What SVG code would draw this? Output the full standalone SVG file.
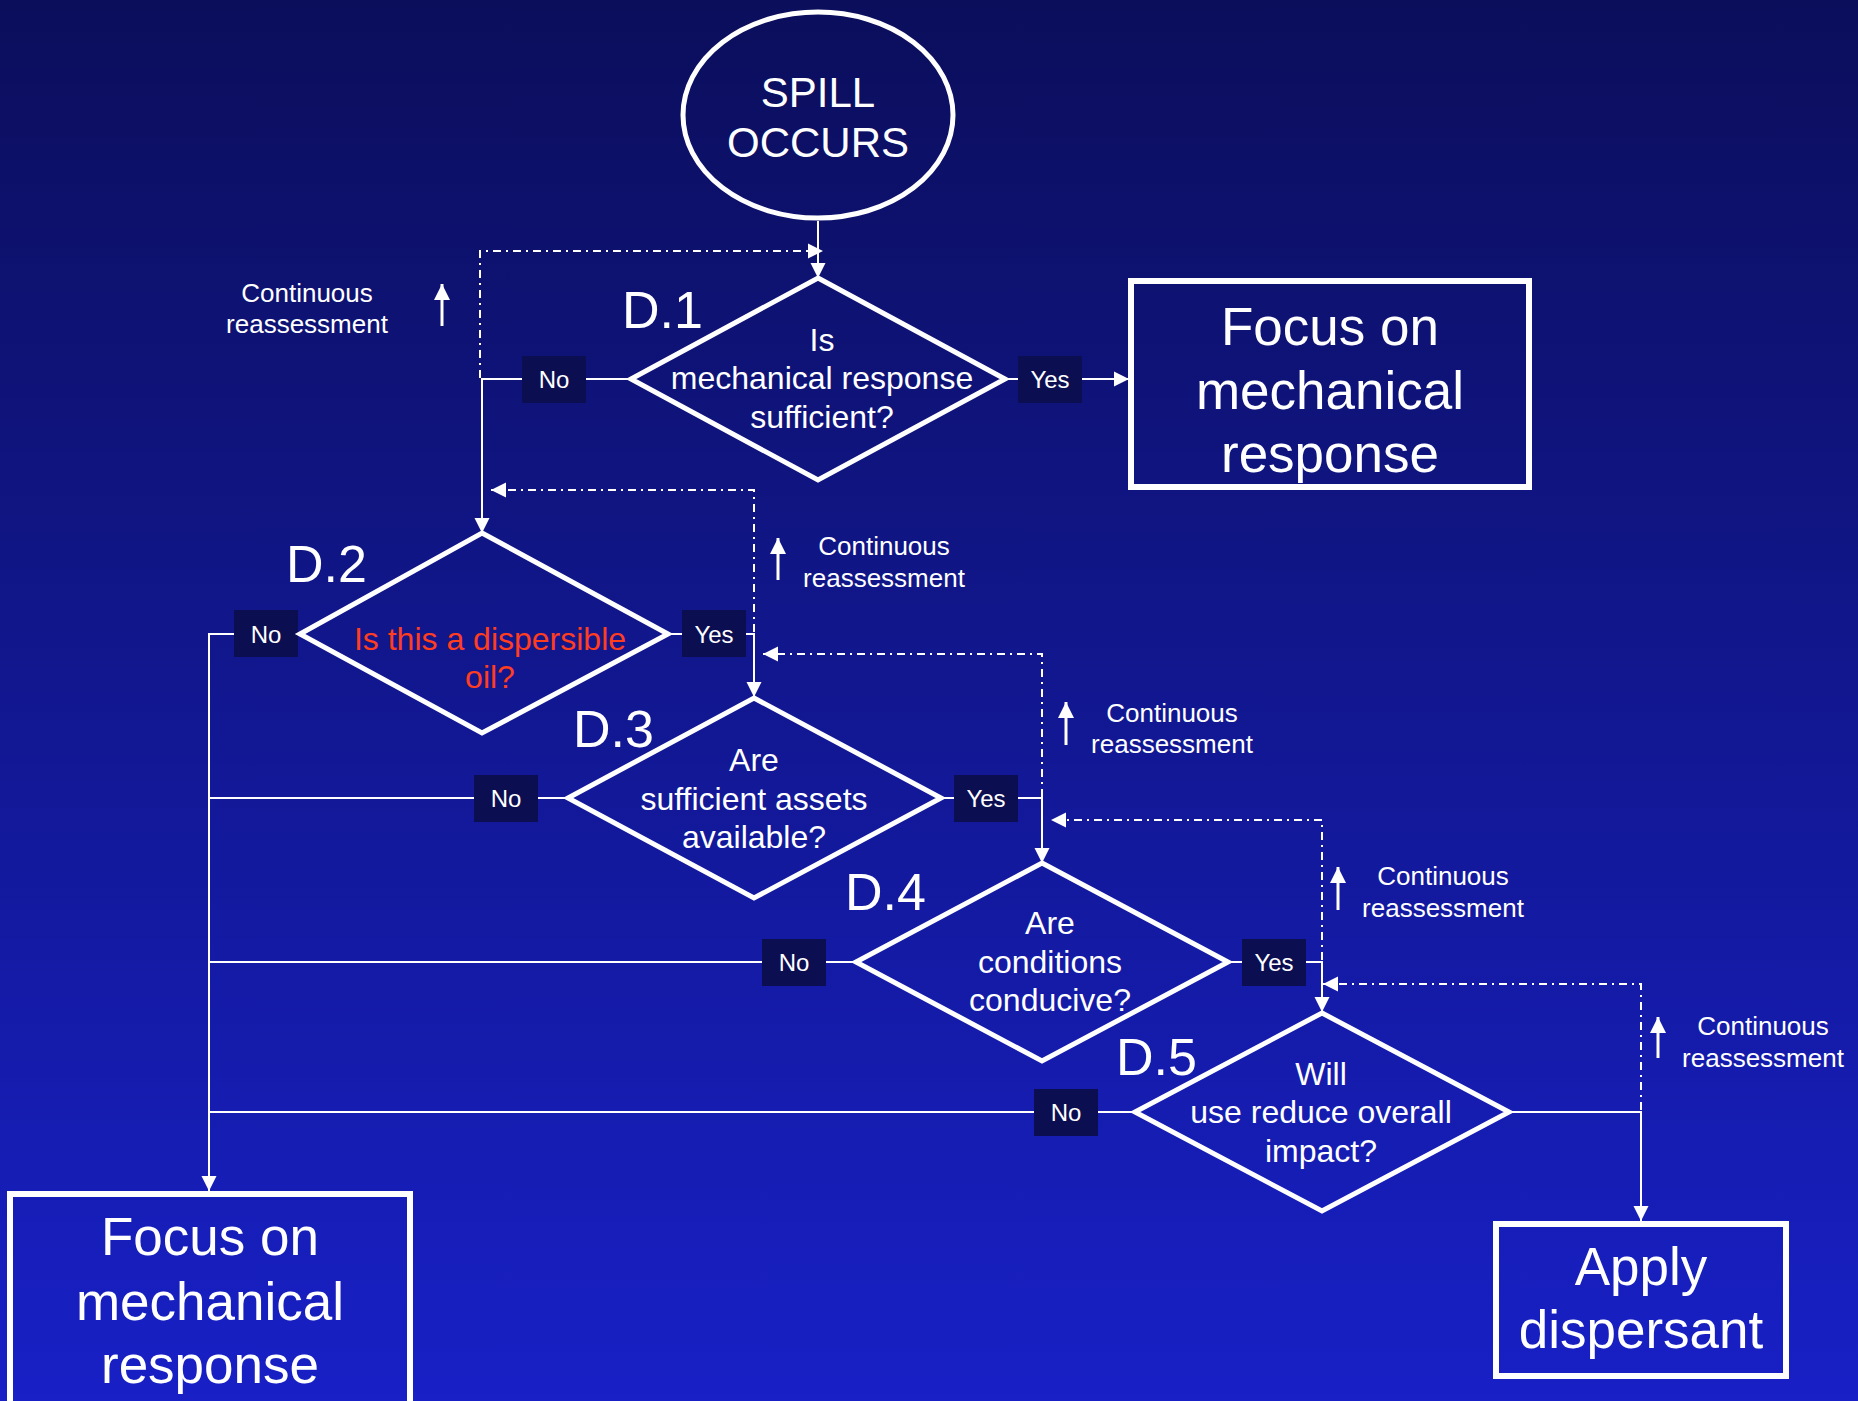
<svg xmlns="http://www.w3.org/2000/svg" width="1858" height="1401" viewBox="0 0 1858 1401">
<defs>
<linearGradient id="bg" x1="0" y1="0" x2="0" y2="1">
<stop offset="0" stop-color="#0b0e5b"/>
<stop offset="1" stop-color="#1820c6"/>
</linearGradient>
<marker id="arr" markerWidth="16" markerHeight="16" refX="15" refY="8" orient="auto" markerUnits="userSpaceOnUse">
<path d="M0,0.5 L15,8 L0,15.5 Z" fill="#fff"/>
</marker>
<marker id="up" markerWidth="18" markerHeight="18" refX="16" refY="8" orient="auto" markerUnits="userSpaceOnUse">
<path d="M0,0 L16,8 L0,16 Z" fill="#fff"/>
</marker>
<style>
text{font-family:"Liberation Sans",Arial,sans-serif;fill:#fff}
.shape{fill:none;stroke:#fff;stroke-width:5}
.box{fill:none;stroke:#fff;stroke-width:6}
.line{fill:none;stroke:#fff;stroke-width:2}
.dash{fill:none;stroke:#fff;stroke-width:2;stroke-dasharray:8 5 2 5}
.lbl{fill:#0c0e52}
.lt{font-size:24px;text-anchor:middle}
.q{font-size:32px;text-anchor:middle}
.big{font-size:53px;text-anchor:middle}
.dn{font-size:52px}
.cr{font-size:26px;text-anchor:middle}
.up{fill:none;stroke:#fff;stroke-width:3}
</style>
</defs>
<rect x="0" y="0" width="1858" height="1401" fill="url(#bg)"/>

<g id="connectors">
<path class="line" d="M818,221 V278" marker-end="url(#arr)"/>
<path class="line" d="M1006,379 H1129" marker-end="url(#arr)"/>
<path class="line" d="M631,379 H482 V533" marker-end="url(#arr)"/>
<path class="dash" d="M480,378 V251 H823" marker-end="url(#arr)"/>
<path class="line" d="M300,634 H209 V1191" marker-end="url(#arr)"/>
<path class="line" d="M670,634 H754 V697" marker-end="url(#arr)"/>
<path class="dash" d="M754,632 V490 H491" marker-end="url(#arr)"/>
<path class="line" d="M567,798 H209"/>
<path class="line" d="M942,798 H1042 V863" marker-end="url(#arr)"/>
<path class="dash" d="M1042,797 V654 H763" marker-end="url(#arr)"/>
<path class="line" d="M855,962 H209"/>
<path class="line" d="M1228,962 H1322 V1012" marker-end="url(#arr)"/>
<path class="dash" d="M1322,960 V820 H1051" marker-end="url(#arr)"/>
<path class="line" d="M1135,1112 H209"/>
<path class="line" d="M1510,1112 H1641 V1221" marker-end="url(#arr)"/>
<path class="dash" d="M1641,1110 V984 H1323" marker-end="url(#arr)"/>
</g>

<g id="edge-labels">
<rect class="lbl" x="1018" y="356" width="64" height="47"/><text class="lt" x="1050" y="388">Yes</text>
<rect class="lbl" x="522" y="356" width="64" height="47"/><text class="lt" x="554" y="388">No</text>
<rect class="lbl" x="234" y="610" width="64" height="47"/><text class="lt" x="266" y="643">No</text>
<rect class="lbl" x="682" y="610" width="64" height="47"/><text class="lt" x="714" y="643">Yes</text>
<rect class="lbl" x="474" y="775" width="64" height="47"/><text class="lt" x="506" y="807">No</text>
<rect class="lbl" x="954" y="775" width="64" height="47"/><text class="lt" x="986" y="807">Yes</text>
<rect class="lbl" x="762" y="939" width="64" height="47"/><text class="lt" x="794" y="971">No</text>
<rect class="lbl" x="1242" y="939" width="64" height="47"/><text class="lt" x="1274" y="971">Yes</text>
<rect class="lbl" x="1034" y="1089" width="64" height="47"/><text class="lt" x="1066" y="1121">No</text>
</g>

<g id="reassessment-notes">
<path class="up" d="M442,326 V284" marker-end="url(#up)"/>
<text class="cr" x="307" y="302">Continuous</text><text class="cr" x="307" y="333">reassessment</text>
<path class="up" d="M778,580 V538" marker-end="url(#up)"/>
<text class="cr" x="884" y="555">Continuous</text><text class="cr" x="884" y="587">reassessment</text>
<path class="up" d="M1066,745 V702" marker-end="url(#up)"/>
<text class="cr" x="1172" y="722">Continuous</text><text class="cr" x="1172" y="753">reassessment</text>
<path class="up" d="M1338,910 V867" marker-end="url(#up)"/>
<text class="cr" x="1443" y="885">Continuous</text><text class="cr" x="1443" y="917">reassessment</text>
<path class="up" d="M1658,1058 V1017" marker-end="url(#up)"/>
<text class="cr" x="1763" y="1035">Continuous</text><text class="cr" x="1763" y="1067">reassessment</text>
</g>

<g id="spill">
<ellipse class="shape" cx="818" cy="115" rx="135" ry="103"/>
<text x="818" y="107" font-size="42" text-anchor="middle">SPILL</text>
<text x="818" y="157" font-size="42" text-anchor="middle">OCCURS</text>
</g>

<g id="d1">
<polygon class="shape" points="818,278 1005,379 818,480 631,379"/>
<text class="dn" x="622" y="328">D.1</text>
<text class="q" x="822" y="351">Is</text>
<text class="q" x="822" y="389">mechanical response</text>
<text class="q" x="822" y="428">sufficient?</text>
</g>

<g id="focus-top">
<rect class="box" x="1131" y="281" width="398" height="206"/>
<text class="big" x="1330" y="345">Focus on</text>
<text class="big" x="1330" y="409">mechanical</text>
<text class="big" x="1330" y="472">response</text>
</g>

<g id="d2">
<polygon class="shape" points="482,533 668,634 482,733 300,634"/>
<text class="dn" x="286" y="582">D.2</text>
<text class="q" x="490" y="650" style="fill:#ff3d1f">Is this a dispersible</text>
<text class="q" x="490" y="688" style="fill:#ff3d1f">oil?</text>
</g>

<g id="d3">
<polygon class="shape" points="754,698 941,798 754,898 568,798"/>
<text class="dn" x="573" y="747">D.3</text>
<text class="q" x="754" y="771">Are</text>
<text class="q" x="754" y="810">sufficient assets</text>
<text class="q" x="754" y="848">available?</text>
</g>

<g id="d4">
<polygon class="shape" points="1042,863 1228,962 1042,1061 856,962"/>
<text class="dn" x="845" y="910">D.4</text>
<text class="q" x="1050" y="934">Are</text>
<text class="q" x="1050" y="973">conditions</text>
<text class="q" x="1050" y="1011">conducive?</text>
</g>

<g id="d5">
<polygon class="shape" points="1322,1013 1509,1112 1322,1211 1135,1112"/>
<text class="dn" x="1116" y="1075">D.5</text>
<text class="q" x="1321" y="1085">Will</text>
<text class="q" x="1321" y="1123">use reduce overall</text>
<text class="q" x="1321" y="1162">impact?</text>
</g>

<g id="focus-bottom">
<rect class="box" x="10" y="1194" width="400" height="240"/>
<text class="big" x="210" y="1255">Focus on</text>
<text class="big" x="210" y="1320">mechanical</text>
<text class="big" x="210" y="1383">response</text>
</g>

<g id="apply">
<rect class="box" x="1496" y="1224" width="290" height="152"/>
<text class="big" x="1641" y="1285">Apply</text>
<text class="big" x="1641" y="1348">dispersant</text>
</g>
</svg>
